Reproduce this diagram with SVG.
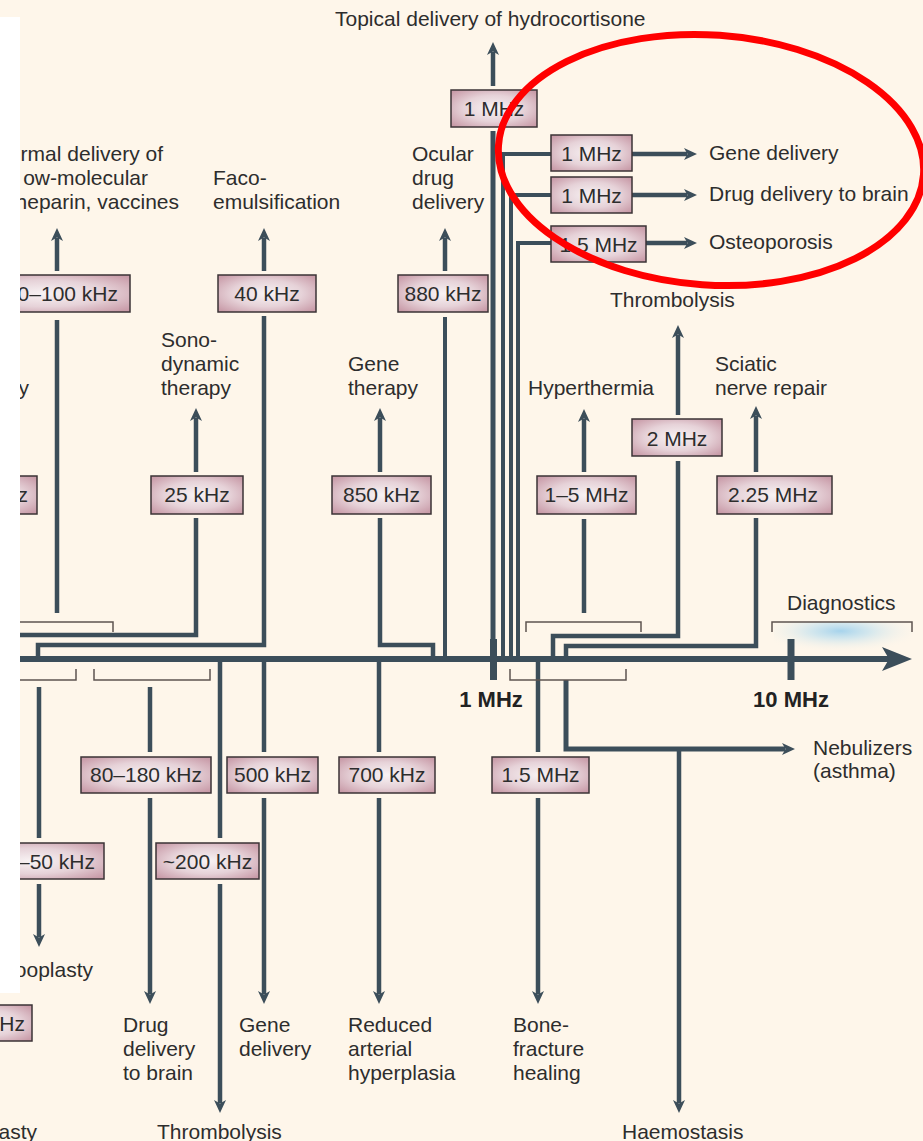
<svg xmlns="http://www.w3.org/2000/svg" width="923" height="1141" viewBox="0 0 923 1141">
<defs>
<style>
.ln{fill:none;stroke:#3c4e5a;stroke-width:4.5;stroke-linejoin:miter;stroke-linecap:butt}
.thin{stroke-width:4}
.arr{marker-end:url(#ah)}
.br{fill:none;stroke:#5e5450;stroke-width:1.5}
.box{fill:url(#bf);stroke:#3b3336;stroke-width:1.5}
.t{font-family:"Liberation Sans",Arial,Helvetica,sans-serif;font-size:21px;fill:#2d2d2d}
.m{text-anchor:middle}
.e{text-anchor:end}
.ax{font-family:"Liberation Sans",Arial,Helvetica,sans-serif;font-size:22px;font-weight:bold;fill:#222;text-anchor:middle}
</style>
<radialGradient id="bf" cx="0.5" cy="0.5" r="0.65">
<stop offset="0" stop-color="#f8f3f4"/>
<stop offset="0.55" stop-color="#e6d2d8"/>
<stop offset="1" stop-color="#c99ca9"/>
</radialGradient>
<radialGradient id="glow" cx="0.48" cy="0.25" r="0.6">
<stop offset="0" stop-color="#a6d3ec"/>
<stop offset="0.35" stop-color="#c8e3ee" stop-opacity="0.8"/>
<stop offset="1" stop-color="#fef6ea" stop-opacity="0"/>
</radialGradient>
<marker id="ah" viewBox="0 0 13 12" refX="3" refY="6" markerWidth="13" markerHeight="12" markerUnits="userSpaceOnUse" orient="auto">
<path d="M0,0 L13,6 L0,12 L3.5,6 z" fill="#3c4e5a"/>
</marker>
<marker id="ahb" viewBox="0 0 30 24" refX="7" refY="12" markerWidth="30" markerHeight="24" markerUnits="userSpaceOnUse" orient="auto">
<path d="M0,0 L30,12 L0,24 L7,12 z" fill="#3c4e5a"/>
</marker>
</defs>

<rect x="0" y="0" width="923" height="1141" fill="#fef6ea"/>

<g id="diagnostics-glow">
<rect x="774" y="622" width="138" height="36" fill="url(#glow)"/>
</g>

<g id="axis">
<path class="ln" d="M0 659 H889" style="stroke-width:6;marker-end:url(#ahb)"/>
<rect x="490" y="639" width="7" height="41" fill="#3c4e5a"/>
<rect x="787.5" y="639" width="7" height="41" fill="#3c4e5a"/>
<text class="ax" x="491" y="707">1 MHz</text>
<text class="ax" x="791" y="707">10 MHz</text>
</g>

<g id="connectors">
<path class="ln" d="M57 320 V613"/>
<path class="ln arr" d="M57 271 V238"/>
<path class="ln" d="M196 518 V635 H0"/>
<path class="ln arr" d="M196 472 V418"/>
<path class="ln" d="M264 316 V645 H38 V659"/>
<path class="ln arr" d="M264 271 V238"/>
<path class="ln" d="M380 518 V645 H433 V659"/>
<path class="ln arr" d="M380 472 V418"/>
<path class="ln thin" d="M445 317 V659"/>
<path class="ln arr" d="M445 271 V238"/>
<path class="ln" d="M493 131 V659" style="stroke-width:5"/>
<path class="ln arr" d="M493 86 V52"/>
<path class="ln thin" d="M503 659 V154 H551"/>
<path class="ln arr" d="M632 154 H687"/>
<path class="ln thin" d="M511 659 V195 H551"/>
<path class="ln arr" d="M632 195 H687"/>
<path class="ln thin" d="M518 659 V243 H551"/>
<path class="ln arr" d="M646 243 H687"/>
<path class="ln" d="M584 519 V613"/>
<path class="ln arr" d="M584 472 V419"/>
<path class="ln" d="M678 461 V636 H553 V659"/>
<path class="ln arr" d="M678 415 V335"/>
<path class="ln" d="M756 518 V646 H566 V659"/>
<path class="ln arr" d="M756 472 V416"/>

<path class="ln" d="M39 687 V838"/>
<path class="ln arr" d="M39 884 V937"/>
<path class="ln" d="M150 687 V752"/>
<path class="ln arr" d="M150 798 V994"/>
<path class="ln" d="M220 659 V838"/>
<path class="ln arr" d="M220 884 V1103"/>
<path class="ln" d="M264 659 V752"/>
<path class="ln arr" d="M264 798 V994"/>
<path class="ln" d="M379 659 V752"/>
<path class="ln arr" d="M379 798 V994"/>
<path class="ln" d="M538 659 V752"/>
<path class="ln arr" d="M538 798 V994"/>
<path class="ln arr" d="M566 680 V749 H785" style="stroke-width:5"/>
<path class="ln arr" d="M679 749 V1103"/>

<path class="br" d="M0 622 H113 V632"/>
<path class="br" d="M0 680 H76 V669"/>
<path class="br" d="M94 669 V680 H210 V669"/>
<path class="br" d="M526 632 V622 H641 V632"/>
<path class="br" d="M510 669 V680 H626 V669"/>
<path class="br" d="M772 632 V622 H912 V632"/>
</g>

<g id="box-20-100khz"><rect class="box" x="-40" y="275" width="170" height="37"/><text class="t e" x="118" y="300.5">0–100 kHz</text></g>
<g id="box-40khz"><rect class="box" x="218" y="275" width="98" height="37"/><text class="t m" x="267" y="300.5">40 kHz</text></g>
<g id="box-880khz"><rect class="box" x="398" y="275" width="90" height="37"/><text class="t m" x="443" y="300.5">880 kHz</text></g>
<g id="box-1mhz-top"><rect class="box" x="451" y="90" width="86" height="37"/><text class="t m" x="494" y="116">1 MHz</text></g>
<g id="box-1mhz-gene"><rect class="box" x="551" y="135" width="81" height="36"/><text class="t m" x="591.5" y="160.5">1 MHz</text></g>
<g id="box-1mhz-brain"><rect class="box" x="551" y="177" width="81" height="36"/><text class="t m" x="591.5" y="202.5">1 MHz</text></g>
<g id="box-1-5mhz-osteo"><rect class="box" x="551" y="226" width="95" height="36"/><text class="t m" x="598.5" y="251.5">1.5 MHz</text></g>
<g id="box-left-z"><rect class="box" x="-60" y="476" width="97" height="38"/><text class="t e" x="28" y="502">z</text></g>
<g id="box-25khz"><rect class="box" x="151" y="476" width="92" height="38"/><text class="t m" x="197" y="502">25 kHz</text></g>
<g id="box-850khz"><rect class="box" x="332" y="476" width="99" height="38"/><text class="t m" x="381.5" y="502">850 kHz</text></g>
<g id="box-1-5mhz-range"><rect class="box" x="537" y="476" width="99" height="38"/><text class="t m" x="586.5" y="502">1–5 MHz</text></g>
<g id="box-2mhz"><rect class="box" x="632" y="419" width="90" height="37"/><text class="t m" x="677" y="445.5">2 MHz</text></g>
<g id="box-2-25mhz"><rect class="box" x="717" y="476" width="115" height="38"/><text class="t m" x="773" y="502">2.25 MHz</text></g>
<g id="box-80-180khz"><rect class="box" x="81" y="757" width="130" height="36"/><text class="t m" x="146" y="782">80–180 kHz</text></g>
<g id="box-500khz"><rect class="box" x="227" y="757" width="91" height="36"/><text class="t m" x="272.5" y="782">500 kHz</text></g>
<g id="box-700khz"><rect class="box" x="339" y="757" width="96" height="36"/><text class="t m" x="387" y="782">700 kHz</text></g>
<g id="box-1-5mhz-bone"><rect class="box" x="492" y="757" width="97" height="36"/><text class="t m" x="540.5" y="782">1.5 MHz</text></g>
<g id="box-50khz"><rect class="box" x="-40" y="843" width="144" height="36"/><text class="t e" x="95" y="868.5">–50 kHz</text></g>
<g id="box-200khz"><rect class="box" x="156" y="843" width="103" height="36"/><text class="t m" x="207.5" y="868.5">~200 kHz</text></g>
<g id="box-left-hz"><rect class="box" x="-50" y="1005" width="82" height="36"/><text class="t e" x="25" y="1030.5">Hz</text></g>

<g id="label-hydrocortisone"><text class="t" x="335" y="26">Topical delivery of hydrocortisone</text></g>
<g id="label-gene-delivery-top"><text class="t" x="709" y="160">Gene delivery</text></g>
<g id="label-drug-brain-top"><text class="t" x="709" y="201">Drug delivery to brain</text></g>
<g id="label-osteoporosis"><text class="t" x="709" y="249">Osteoporosis</text></g>
<g id="label-thrombolysis-top"><text class="t" x="610" y="307">Thrombolysis</text></g>
<g id="label-transdermal"><text class="t e" x="163" y="161">rmal delivery of</text><text class="t e" x="148" y="185">ow-molecular</text><text class="t e" x="179" y="209">heparin, vaccines</text></g>
<g id="label-faco"><text class="t" x="213" y="185">Faco-</text><text class="t" x="213" y="209">emulsification</text></g>
<g id="label-ocular"><text class="t" x="412" y="161">Ocular</text><text class="t" x="412" y="185">drug</text><text class="t" x="412" y="209">delivery</text></g>
<g id="label-sono"><text class="t" x="161" y="347">Sono-</text><text class="t" x="161" y="371">dynamic</text><text class="t" x="161" y="395">therapy</text></g>
<g id="label-left-y"><text class="t e" x="29" y="395">y</text></g>
<g id="label-gene-therapy"><text class="t" x="348" y="371">Gene</text><text class="t" x="348" y="395">therapy</text></g>
<g id="label-hyperthermia"><text class="t" x="528" y="395">Hyperthermia</text></g>
<g id="label-sciatic"><text class="t" x="715" y="371">Sciatic</text><text class="t" x="715" y="395">nerve repair</text></g>
<g id="label-diagnostics"><text class="t" x="787" y="610">Diagnostics</text></g>
<g id="label-nebulizers"><text class="t" x="813" y="755">Nebulizers</text><text class="t" x="813" y="778">(asthma)</text></g>
<g id="label-plasty"><text class="t e" x="93" y="977">ooplasty</text></g>
<g id="label-drug-brain-bottom"><text class="t" x="123" y="1032">Drug</text><text class="t" x="123" y="1056">delivery</text><text class="t" x="123" y="1080">to brain</text></g>
<g id="label-gene-delivery-bottom"><text class="t" x="239" y="1032">Gene</text><text class="t" x="239" y="1056">delivery</text></g>
<g id="label-reduced"><text class="t" x="348" y="1032">Reduced</text><text class="t" x="348" y="1056">arterial</text><text class="t" x="348" y="1080">hyperplasia</text></g>
<g id="label-bone"><text class="t" x="513" y="1032">Bone-</text><text class="t" x="513" y="1056">fracture</text><text class="t" x="513" y="1080">healing</text></g>
<g id="label-thrombolysis-bottom"><text class="t" x="157" y="1139">Thrombolysis</text></g>
<g id="label-haemostasis"><text class="t" x="622" y="1139">Haemostasis</text></g>
<g id="label-asty"><text class="t e" x="37" y="1139">asty</text></g>

<rect id="white-panel" x="0" y="17" width="20" height="976" fill="#ffffff"/>

<g id="highlight">
<ellipse cx="711" cy="160" rx="213" ry="125" transform="rotate(4 711 160)" fill="none" stroke="#ff0000" stroke-width="7"/>
</g>
</svg>
